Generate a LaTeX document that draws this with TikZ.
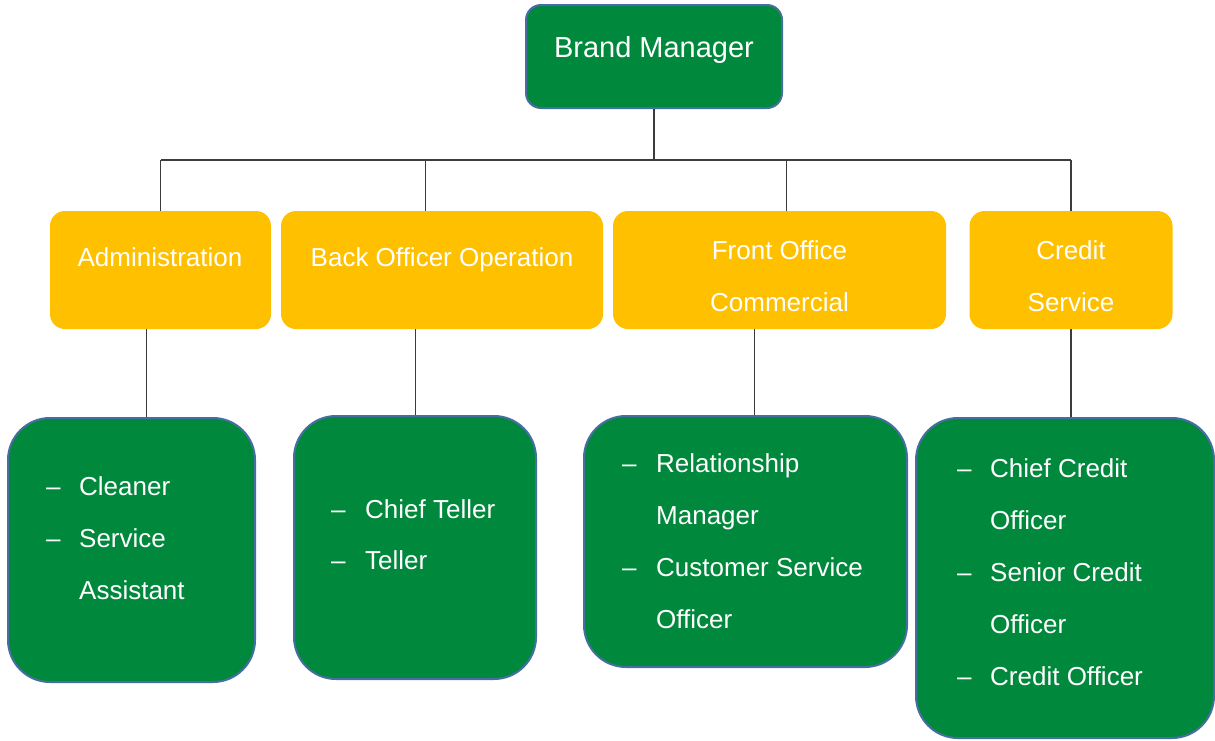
\documentclass[tikz,border=0pt]{standalone}
\usepackage{fontspec}
\setmainfont{Liberation Sans}
\definecolor{boxgreen}{RGB}{0,137,60}
\definecolor{boxedge}{RGB}{70,110,160}
\definecolor{deptgold}{RGB}{255,192,0}
\definecolor{wire}{RGB}{60,60,60}
\begin{document}
\begin{tikzpicture}[x=1pt,y=-1pt,
  headbox/.style={fill=boxgreen,draw=boxedge,line width=2pt,rounded corners=15pt,inner sep=0pt},
  deptbox/.style={fill=deptgold,rounded corners=15pt,inner sep=0pt},
  staffbox/.style={fill=boxgreen,draw=boxedge,line width=2pt,rounded corners=42pt,inner sep=0pt},
  headtext/.style={text=white,inner sep=0pt,font=\fontsize{29}{35}\selectfont,anchor=base},
  depttext/.style={text=white,inner sep=0pt,font=\fontsize{26}{31}\selectfont,anchor=base},
  itemtext/.style={text=white,inner sep=0pt,font=\fontsize{26}{31}\selectfont,anchor=base west},
  wireline/.style={draw=wire,line width=1.3pt}]
\useasboundingbox (0,0) rectangle (1215,740);

% ---- boxes ----
\node[headbox,minimum width=256pt,minimum height=103pt] (bm) at (654,56.5) {};
\node[deptbox,minimum width=221pt,minimum height=118pt] (adm) at (160.5,270) {};
\node[deptbox,minimum width=322pt,minimum height=118pt] (bo) at (442,270) {};
\node[deptbox,minimum width=333pt,minimum height=118pt] (fo) at (779.5,270) {};
\node[deptbox,minimum width=203pt,minimum height=118pt] (cs) at (1071,270) {};
\node[staffbox,minimum width=247pt,minimum height=264pt] (s1) at (131.5,550) {};
\node[staffbox,minimum width=242pt,minimum height=263pt] (s2) at (415,547.5) {};
\node[staffbox,minimum width=323pt,minimum height=251pt] (s3) at (745.5,541.5) {};
\node[staffbox,minimum width=298pt,minimum height=320pt] (s4) at (1065,578) {};

% ---- connectors ----
\coordinate (bus) at (0,160);
\draw[wireline] (bm.south) -- (bm.south |- bus);
\draw[wireline] (adm.north |- bus) -- (cs.north |- bus);
\draw[wireline] (adm.north) -- (adm.north |- bus);
\draw[wireline] ([xshift=145pt]bo.north west) -- ([xshift=145pt]bo.north west |- bus);
\draw[wireline] ([xshift=174pt]fo.north west) -- ([xshift=174pt]fo.north west |- bus);
\draw[wireline] (cs.north) -- (cs.north |- bus);
\draw[wireline] ([xshift=97pt]adm.south west) -- ([xshift=97pt]adm.south west |- s1.north);
\draw[wireline] ([xshift=135pt]bo.south west) -- ([xshift=135pt]bo.south west |- s2.north);
\draw[wireline] ([xshift=142pt]fo.south west) -- ([xshift=142pt]fo.south west |- s3.north);
\draw[wireline] (cs.south) -- (cs.south |- s4.north);

% ---- titles ----
\node[headtext] (bmt) at (654,57) {Brand Manager};
\node[depttext] (admt) at (160,266) {Administration};
\node[depttext] (bot) at (442,266) {Back Officer Operation};
\node[depttext] (fot1) at (779.5,259) {Front Office};
\node[depttext] (fot2) at (779.5,311) {Commercial};
\node[depttext] (cst1) at (1071,259) {Credit};
\node[depttext] (cst2) at (1071,311) {Service};

% ---- staff lists ----
\node[itemtext] (d11) at (46,495) {–};
\node[itemtext] (i11) at (79,495) {Cleaner};
\node[itemtext] (d12) at (46,547) {–};
\node[itemtext] (i12) at (79,547) {Service};
\node[itemtext] (i13) at (79,599) {Assistant};

\node[itemtext] (d21) at (331,518) {–};
\node[itemtext] (i21) at (365,518) {Chief Teller};
\node[itemtext] (d22) at (331,569) {–};
\node[itemtext] (i22) at (365,569) {Teller};

\node[itemtext] (d31) at (622,472) {–};
\node[itemtext] (i31) at (656,472) {Relationship};
\node[itemtext] (i32) at (656,524) {Manager};
\node[itemtext] (d33) at (622,576) {–};
\node[itemtext] (i33) at (656,576) {Customer Service};
\node[itemtext] (i34) at (656,628) {Officer};

\node[itemtext] (d41) at (957,477) {–};
\node[itemtext] (i41) at (990,477) {Chief Credit};
\node[itemtext] (i42) at (990,529) {Officer};
\node[itemtext] (d43) at (957,581) {–};
\node[itemtext] (i43) at (990,581) {Senior Credit};
\node[itemtext] (i44) at (990,633) {Officer};
\node[itemtext] (d45) at (957,685) {–};
\node[itemtext] (i45) at (990,685) {Credit Officer};
\end{tikzpicture}
\end{document}
